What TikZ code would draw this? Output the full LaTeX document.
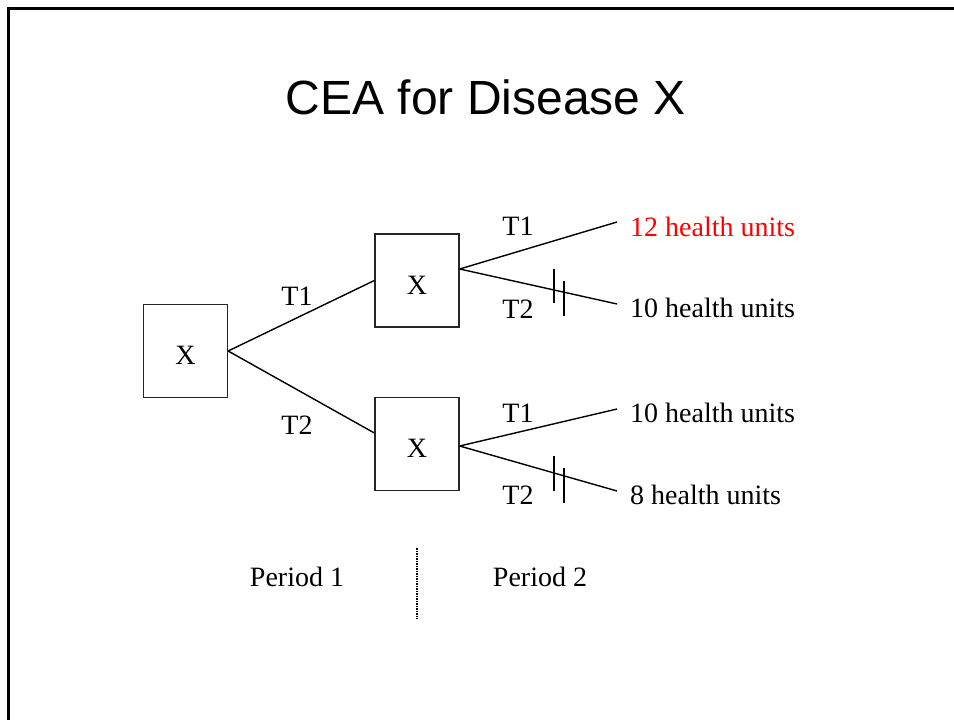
\documentclass[tikz,border=0pt]{standalone}
\usepackage{fontspec}
\setmainfont{Liberation Serif}
\newfontfamily\titlefont{Liberation Sans}
\begin{document}
\begin{tikzpicture}[x=1pt,y=-1pt,
  box/.style={draw=black!85,line width=1.3pt,minimum width=84pt,minimum height=93pt,inner sep=0pt,text height=27pt,text depth=0pt,font=\fontsize{28}{30}\selectfont},
  lbl/.style={inner sep=0pt,font=\fontsize{28}{30}\selectfont},
  res/.style={lbl,anchor=west},
  edge/.style={line width=1.4pt},
  hash/.style={line width=1.4pt}]
\useasboundingbox (0,0) rectangle (954,720);
% frame
\draw[line width=3pt] (8,720) -- (8,8) -- (954,8);
% title
\node[inner sep=0pt,font=\titlefont\fontsize{48}{52}\selectfont] (title) at (486,97) {CEA for Disease X};
% boxes
\node[box] (A) at (185.5,351) {X};
\node[box] (B) at (417,280.5) {X};
\node[box] (C) at (417,444) {X};
% free ends
\coordinate (b1) at (617,222);
\coordinate (b2) at (617,304);
\coordinate (c1) at (617,409);
\coordinate (c2) at (617,491);
% connectors
\draw[edge] (A.east) -- (B.west);
\draw[edge] (A.east) -- ([yshift=11pt]C.west);
\draw[edge] ([yshift=11.5pt]B.east) -- (b1);
\draw[edge] ([yshift=11.5pt]B.east) -- (b2);
\draw[edge] ([yshift=-2pt]C.east) -- (c1);
\draw[edge] ([yshift=-2pt]C.east) -- (c2);
% hash marks
\draw[hash] (554,269) -- (554,303);
\draw[hash] (564,281) -- (564,316);
\draw[hash] (554,456) -- (554,491);
\draw[hash] (564,468) -- (564,503);
% branch labels
\node[lbl] (l1) at (297,296) {T1};
\node[lbl] (l2) at (297,425) {T2};
\node[lbl] (l3) at (518,226) {T1};
\node[lbl] (l4) at (518,309) {T2};
\node[lbl] (l5) at (518,413) {T1};
\node[lbl] (l6) at (518,495) {T2};
% results
\node[res,text=red] (r1) at (630,227) {12 health units};
\node[res] (r2) at (630,308) {10 health units};
\node[res] (r3) at (630,413) {10 health units};
\node[res] (r4) at (630,495) {8 health units};
% periods
\node[lbl] (p1) at (297,577) {Period 1};
\node[lbl] (p2) at (540,577) {Period 2};
\coordinate (d1) at (417,548);
\coordinate (d2) at (417,619);
\draw[line width=1.8pt,dash pattern=on 1.5pt off 1pt] (d1) -- (d2);
\end{tikzpicture}
\end{document}
